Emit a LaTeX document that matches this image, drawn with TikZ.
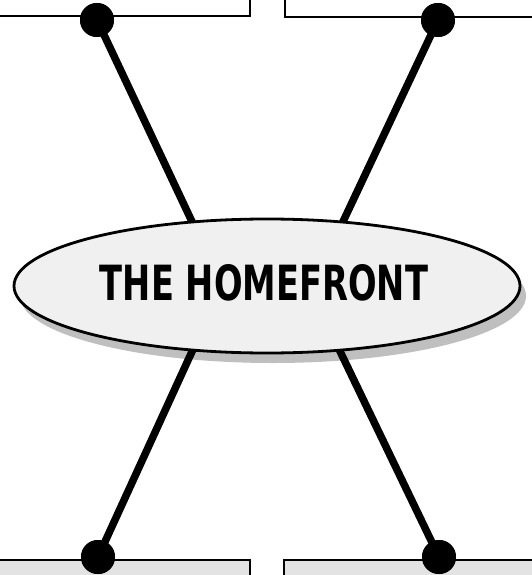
\documentclass[tikz,border=0pt]{standalone}
\usepackage{fontspec}
\setmainfont{DejaVu Sans}
\usetikzlibrary{shapes.geometric}
\begin{document}
\begin{tikzpicture}[x=1pt,y=-1pt,
  frame/.style={draw=black,line width=2.5pt},
  pin/.style={circle,fill=black,inner sep=0pt,minimum size=34pt},
  rod/.style={line width=7.5pt,draw=black},
  oval/.style={ellipse,draw=black,line width=2.8pt,fill=gray!12,minimum width=506pt,minimum height=134pt,inner sep=0pt},
  shadowoval/.style={ellipse,fill=gray!50,minimum width=506pt,minimum height=134pt,inner sep=0pt}]
\useasboundingbox (0,0) rectangle (532,575);
\clip (0,0) rectangle (532,575);
% frames
\draw[frame,fill=white] (-5,-5) rectangle (250,16);
\draw[frame,fill=white] (285,-5) rectangle (540,17);
\draw[frame,fill=gray!22] (-5,560) rectangle (250,585);
\draw[frame,fill=gray!22] (284,560) rectangle (540,585);
% shadow of the oval
\node[shadowoval] (sh) at (273,296) {};
% anchor points inside the oval
\coordinate (e1) at (195,228);
\coordinate (e2) at (340,228);
\coordinate (e3) at (195,345);
\coordinate (e4) at (337,345);
% pins
\node[pin] (p1) at (97,20) {};
\node[pin] (p2) at (438,20) {};
\node[pin] (p3) at (98,557) {};
\node[pin] (p4) at (439,557) {};
% rods
\draw[rod] (p1.center) -- (e1);
\draw[rod] (p2.center) -- (e2);
\draw[rod] (p3.center) -- (e3);
\draw[rod] (p4.center) -- (e4);
% redraw pins over rods
\node[pin] at (p1) {};
\node[pin] at (p2) {};
\node[pin] at (p3) {};
\node[pin] at (p4) {};
% oval
\node[oval] (hf) at (267,286) {};
\node (title) at (264,283) {\resizebox{328pt}{36pt}{\bfseries THE HOMEFRONT}};
\end{tikzpicture}
\end{document}
